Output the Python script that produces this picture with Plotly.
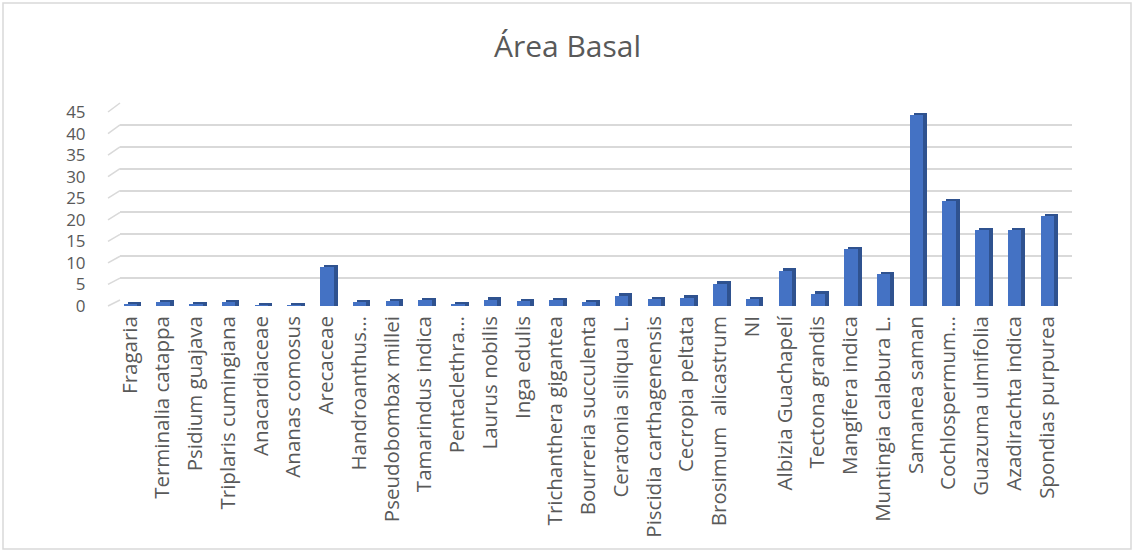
import plotly.graph_objects as go

categories = [
    "Fragaria", "Terminalia catappa", "Psidium guajava", "Triplaris cumingiana",
    "Anacardiaceae", "Ananas comosus", "Arecaceae", "Handroanthus…",
    "Pseudobombax millei", "Tamarindus indica", "Pentaclethra…", "Laurus nobilis",
    "Inga edulis", "Trichanthera gigantea", "Bourreria succulenta",
    "Ceratonia siliqua L.", "Piscidia carthagenensis", "Cecropia peltata",
    "Brosimum  alicastrum", "NI", "Albizia Guachapelí", "Tectona grandis",
    "Mangifera indica", "Muntingia calabura L.", "Samanea saman",
    "Cochlospermum…", "Guazuma ulmifolia", "Azadirachta indica", "Spondias purpurea",
]
values = [
    0.4, 0.9, 0.4, 0.9, 0.2, 0.2, 9.0, 0.9, 1.1, 1.3, 0.4, 1.5, 1.1, 1.3, 0.9,
    2.4, 1.6, 1.9, 5.1, 1.6, 8.2, 2.9, 13.2, 7.4, 44.2, 24.3, 17.6, 17.6, 20.8,
]
y_ticks = [0, 5, 10, 15, 20, 25, 30, 35, 40, 45]

W, H = 1135, 552
FRONT = "#4472C4"
SIDE = "#2F528F"
TEXT = "#595959"
GRID = "#D9D9D9"

idx = list(range(len(categories)))
depth = 0.6          # visual depth of the pseudo-3D bars (value units)
bw = 0.41            # bar width (category units)
side_shift = 0.12    # horizontal shift of the depth face

# plot-area geometry (pixels from top-left)
front_dom = [(H - 306) / H, (H - 112) / H]     # front plane: bars + y labels
back_dom = [(H - 300) / H, (H - 103) / H]      # back wall: gridlines

fig = go.Figure()
# carrier for the back-wall gridlines (subplot xy, drawn first)
fig.add_trace(go.Scatter(x=[0] * len(y_ticks), y=y_ticks, mode="markers",
                         marker=dict(opacity=0), hoverinfo="skip", showlegend=False))
# depth (side/top) faces
fig.add_trace(go.Bar(
    x=idx, y=[v + depth for v in values], width=bw, offset=-bw / 2 + side_shift,
    xaxis="x2", yaxis="y2",
    marker=dict(color=SIDE, line=dict(width=0)), hoverinfo="skip", showlegend=False,
))
# front faces
fig.add_trace(go.Bar(
    x=idx, y=values, width=bw, offset=-bw / 2, name="Área Basal",
    xaxis="x2", yaxis="y2",
    marker=dict(color=FRONT, line=dict(width=0)),
    hovertext=categories, showlegend=False,
))

# short wall edges joining each front tick level to its back gridline
shapes = [dict(type="rect", xref="paper", yref="paper", x0=3 / W, x1=1131 / W,
               y0=3 / H, y1=1 - 3 / H, line=dict(color=GRID, width=1.5), layer="below")]
for t in y_ticks:
    yf = front_dom[0] + t / 45 * (front_dom[1] - front_dom[0])
    yb = back_dom[0] + t / 45 * (back_dom[1] - back_dom[0])
    shapes.append(dict(type="line", xref="paper", yref="paper", x0=108 / W, x1=120 / W,
                       y0=yf, y1=yb, line=dict(color=GRID, width=1.5), layer="below"))

fig.update_layout(
    width=W, height=H,
    margin=dict(l=0, r=0, t=0, b=0, pad=0),
    paper_bgcolor="white", plot_bgcolor="rgba(0,0,0,0)",
    barmode="overlay", bargap=0,
    title=dict(text="Área Basal", x=0.5, xanchor="center", y=1 - 46 / H, yanchor="middle",
               font=dict(family="Open Sans", size=30, color=TEXT), automargin=False),
    xaxis=dict(domain=[120 / W, 1072 / W], range=[0, 1], visible=False,
               fixedrange=True, automargin=False),
    yaxis=dict(domain=back_dom, range=[0, 45], tickvals=y_ticks, showgrid=True,
               gridcolor=GRID, gridwidth=2, zeroline=False, showline=False,
               showticklabels=False, fixedrange=True, automargin=False),
    xaxis2=dict(domain=[113.6 / W, 1063.4 / W], anchor="y2", range=[-0.5, 28.5],
                tickvals=idx, ticktext=categories, tickangle=-90,
                showgrid=False, zeroline=False, showline=False,
                ticklabelstandoff=5, automargin=False,
                tickfont=dict(family="Open Sans", size=20.5, color=TEXT), fixedrange=True),
    yaxis2=dict(domain=front_dom, anchor="x2", range=[0, 45], tickvals=y_ticks,
                showgrid=False, zeroline=False, showline=False,
                ticklabelstandoff=27, automargin=False,
                tickfont=dict(family="Open Sans", size=17, color=TEXT), fixedrange=True),
    shapes=shapes,
)

fig.write_html("out.html", config={"displayModeBar": False},
               post_script="document.body.style.margin='0px';")
